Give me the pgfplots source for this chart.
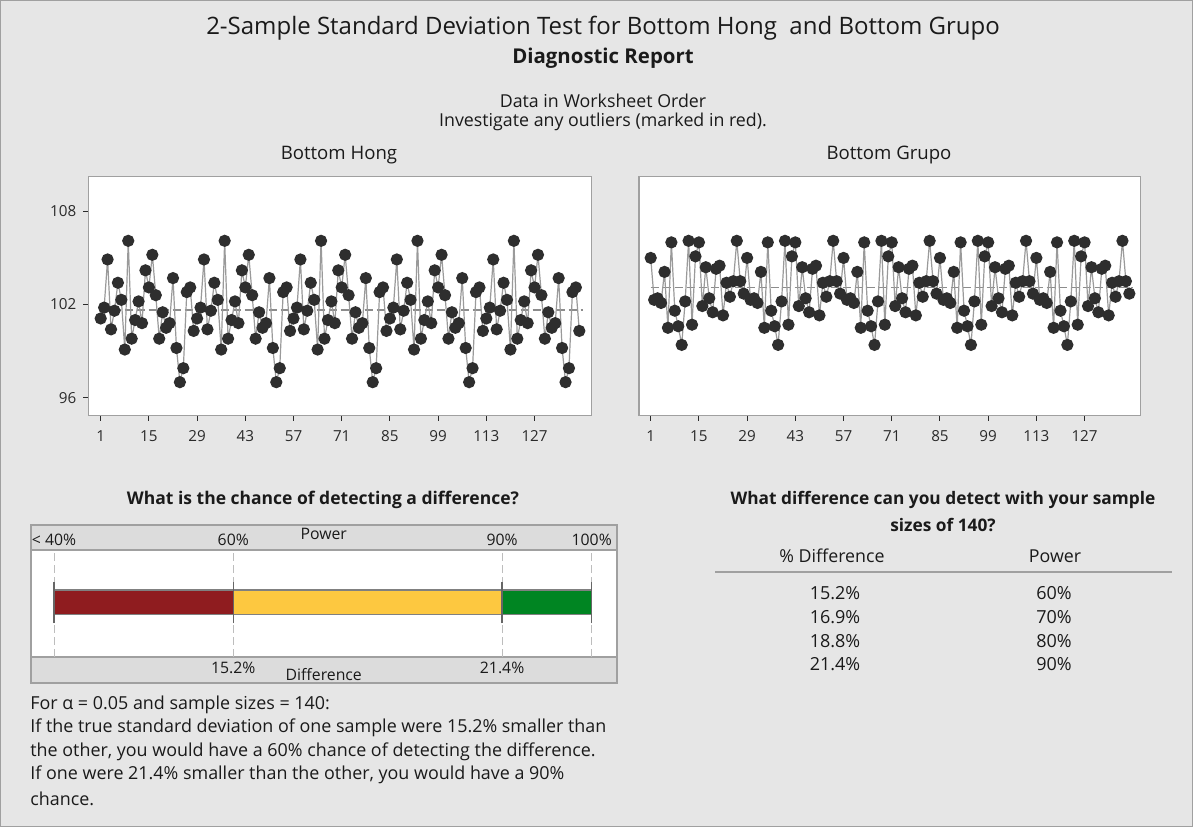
\documentclass[border=0pt]{standalone}
\usepackage{pgfplots}
\pgfplotsset{compat=1.18}
\usepackage{fontspec}
\setmainfont{Open Sans}
\definecolor{bg}{HTML}{E6E6E6}
\definecolor{band}{HTML}{DCDCDC}
\definecolor{framec}{HTML}{A0A0A0}
\definecolor{tickc}{HTML}{2A2A2A}
\definecolor{txt}{HTML}{1A1A1A}
\definecolor{markc}{HTML}{2E2E2E}
\definecolor{linec}{HTML}{9A9A9A}
\definecolor{meanc}{HTML}{8C8C8C}
\definecolor{pred}{HTML}{8F1C1F}
\definecolor{pyel}{HTML}{FDC840}
\definecolor{pgrn}{HTML}{008522}
\definecolor{dashc}{HTML}{BDBDBD}
\newcommand\fs[1]{\fontsize{#1}{#1}\selectfont}
\pgfplotsset{
 tsaxis/.style={
  anchor=south west, scale only axis,
  xmin=-2.6, xmax=143.6, ymin=94.84, ymax=110.26,
  axis background/.style={fill=white},
  axis line style={draw=framec, line width=0.7pt},
  xtick={1,15,29,43,57,71,85,99,113,127},
  tick align=outside, major tick length=2.5pt,
  xtick pos=bottom, ytick pos=left,
  tick style={draw=tickc, line width=0.5pt},
  ticklabel style={font=\fs{7.6}, text=tickc},
  xticklabel style={yshift=-1.2pt},
  /pgf/number format/assume math mode=true,
 },
 tsline/.style={draw=linec, line width=0.6pt, mark=*, mark size=2.75pt,
   mark options={fill=markc, draw=markc, solid}},
 meanline/.style={draw=meanc, line width=0.6pt, dash pattern=on 4pt off 2pt},
}
\begin{document}
\begin{tikzpicture}
\begin{scope}[x=0.5pt,y=-0.5pt]
\fill[bg] (0,0) rectangle (1193,827);
\draw[framec, line width=0.5pt] (0.5,0.5) rectangle (1192.5,826.5);
\node[text=txt, font=\fs{12}] at (603,28) {2-Sample Standard Deviation Test for Bottom Hong\ \ and Bottom Grupo};
\node[text=txt, font=\fs{10.2}\bfseries] at (603,58) {Diagnostic Report};
\node[text=txt, font=\fs{8.9}] at (603,101) {Data in Worksheet Order};
\node[text=txt, font=\fs{8.9}] at (603,122) {Investigate any outliers (marked in red).};
\node[text=txt, font=\fs{9.3}] at (339,155) {Bottom Hong};
\node[text=txt, font=\fs{9.3}] at (889,155) {Bottom Grupo};
\node[text=txt, font=\fs{8.75}\bfseries] at (323,500) {What is the chance of detecting a difference?};
\node[text=txt, font=\fs{8.65}\bfseries] at (943,500) {What difference can you detect with your sample};
\node[text=txt, font=\fs{8.65}\bfseries] at (943,525) {sizes of 140?};
\node[text=txt, font=\fs{8.9}] at (832,556) {\% Difference};
\node[text=txt, font=\fs{8.9}] at (1055,556) {Power};
\draw[framec, line width=0.8pt] (715,572) -- (1172,572);
\foreach \d/\p/\y in {15.2/60/593, 16.9/70/617, 18.8/80/641, 21.4/90/664}{
  \node[text=txt, font=\fs{9}] at (835,\y) {\d\%};
  \node[text=txt, font=\fs{9}] at (1054,\y) {\p\%};
}
\foreach \t/\y in {{For α = 0.05 and sample sizes = 140:}/705,
  {If the true standard deviation of one sample were 15.2\% smaller than}/728,
  {the other, you would have a 60\% chance of detecting the difference.}/752,
  {If one were 21.4\% smaller than the other, you would have a 90\%}/775,
  {chance.}/799}{
  \node[text=txt, font=\fs{8.95}, anchor=west, inner sep=0pt] at (30,\y) {\t};
}
\end{scope}

\begin{axis}[tsaxis, at={(44.15pt,-207.85pt)}, width=251.7pt, height=119.75pt, ytick={96,102,108}]
\addplot[meanline] coordinates {(1,101.65)(141,101.65)};
\addplot[tsline] coordinates {
(1,101.1)(2,101.8)(3,104.9)(4,100.4)(5,101.6)(6,103.4)(7,102.3)(8,99.1)(9,106.1)(10,99.8)(11,101.0)(12,102.2)(13,100.8)(14,104.2)(15,103.1)(16,105.2)(17,102.6)(18,99.8)(19,101.5)(20,100.5)(21,100.8)(22,103.7)(23,99.2)(24,97.0)(25,97.9)(26,102.8)(27,103.1)(28,100.3)
(29,101.1)(30,101.8)(31,104.9)(32,100.4)(33,101.6)(34,103.4)(35,102.3)(36,99.1)(37,106.1)(38,99.8)(39,101.0)(40,102.2)(41,100.8)(42,104.2)(43,103.1)(44,105.2)(45,102.6)(46,99.8)(47,101.5)(48,100.5)(49,100.8)(50,103.7)(51,99.2)(52,97.0)(53,97.9)(54,102.8)(55,103.1)(56,100.3)
(57,101.1)(58,101.8)(59,104.9)(60,100.4)(61,101.6)(62,103.4)(63,102.3)(64,99.1)(65,106.1)(66,99.8)(67,101.0)(68,102.2)(69,100.8)(70,104.2)(71,103.1)(72,105.2)(73,102.6)(74,99.8)(75,101.5)(76,100.5)(77,100.8)(78,103.7)(79,99.2)(80,97.0)(81,97.9)(82,102.8)(83,103.1)(84,100.3)
(85,101.1)(86,101.8)(87,104.9)(88,100.4)(89,101.6)(90,103.4)(91,102.3)(92,99.1)(93,106.1)(94,99.8)(95,101.0)(96,102.2)(97,100.8)(98,104.2)(99,103.1)(100,105.2)(101,102.6)(102,99.8)(103,101.5)(104,100.5)(105,100.8)(106,103.7)(107,99.2)(108,97.0)(109,97.9)(110,102.8)(111,103.1)(112,100.3)
(113,101.1)(114,101.8)(115,104.9)(116,100.4)(117,101.6)(118,103.4)(119,102.3)(120,99.1)(121,106.1)(122,99.8)(123,101.0)(124,102.2)(125,100.8)(126,104.2)(127,103.1)(128,105.2)(129,102.6)(130,99.8)(131,101.5)(132,100.5)(133,100.8)(134,103.7)(135,99.2)(136,97.0)(137,97.9)(138,102.8)(139,103.1)(140,100.3)
};
\end{axis}

\begin{axis}[tsaxis, at={(319.5pt,-207.85pt)}, width=250.85pt, height=119.75pt, xmin=-2.4, xmax=143.3, ytick=\empty]
\addplot[meanline] coordinates {(1,103.07)(141,103.07)};
\addplot[tsline] coordinates {
(1,105.0)(2,102.3)(3,102.4)(4,102.1)(5,104.1)(6,100.5)(7,106.0)(8,101.6)(9,100.6)(10,99.4)(11,102.2)(12,106.1)(13,100.7)(14,105.1)(15,106.0)(16,101.9)(17,104.4)(18,102.4)(19,101.5)(20,104.3)(21,104.5)(22,101.3)(23,103.4)(24,102.5)(25,103.5)(26,106.1)(27,103.5)(28,102.7)
(29,105.0)(30,102.3)(31,102.4)(32,102.1)(33,104.1)(34,100.5)(35,106.0)(36,101.6)(37,100.6)(38,99.4)(39,102.2)(40,106.1)(41,100.7)(42,105.1)(43,106.0)(44,101.9)(45,104.4)(46,102.4)(47,101.5)(48,104.3)(49,104.5)(50,101.3)(51,103.4)(52,102.5)(53,103.5)(54,106.1)(55,103.5)(56,102.7)
(57,105.0)(58,102.3)(59,102.4)(60,102.1)(61,104.1)(62,100.5)(63,106.0)(64,101.6)(65,100.6)(66,99.4)(67,102.2)(68,106.1)(69,100.7)(70,105.1)(71,106.0)(72,101.9)(73,104.4)(74,102.4)(75,101.5)(76,104.3)(77,104.5)(78,101.3)(79,103.4)(80,102.5)(81,103.5)(82,106.1)(83,103.5)(84,102.7)
(85,105.0)(86,102.3)(87,102.4)(88,102.1)(89,104.1)(90,100.5)(91,106.0)(92,101.6)(93,100.6)(94,99.4)(95,102.2)(96,106.1)(97,100.7)(98,105.1)(99,106.0)(100,101.9)(101,104.4)(102,102.4)(103,101.5)(104,104.3)(105,104.5)(106,101.3)(107,103.4)(108,102.5)(109,103.5)(110,106.1)(111,103.5)(112,102.7)
(113,105.0)(114,102.3)(115,102.4)(116,102.1)(117,104.1)(118,100.5)(119,106.0)(120,101.6)(121,100.6)(122,99.4)(123,102.2)(124,106.1)(125,100.7)(126,105.1)(127,106.0)(128,101.9)(129,104.4)(130,102.4)(131,101.5)(132,104.3)(133,104.5)(134,101.3)(135,103.4)(136,102.5)(137,103.5)(138,106.1)(139,103.5)(140,102.7)
};
\end{axis}

\begin{axis}[at={(15.5pt,-341.5pt)}, anchor=south west, scale only axis,
  width=292.85pt, height=79pt, xmin=37.43, xmax=102.79, ymin=0, ymax=158,
  axis background/.style={fill=white}, axis line style={draw=framec, line width=0.9pt},
  ticks=none, axis on top, clip=false]
\fill[band] (axis cs:37.43,133) rectangle (axis cs:102.79,158);
\fill[band] (axis cs:37.43,0) rectangle (axis cs:102.79,26.3);
\draw[framec, line width=0.8pt] (axis cs:37.43,133) -- (axis cs:102.79,133);
\draw[framec, line width=0.8pt] (axis cs:37.43,26.3) -- (axis cs:102.79,26.3);
\addplot[draw=dashc, line width=0.5pt, dash pattern=on 4pt off 2pt] coordinates {(40,26.3)(40,133)};
\addplot[draw=dashc, line width=0.5pt, dash pattern=on 4pt off 2pt] coordinates {(60,26.3)(60,133)};
\addplot[draw=dashc, line width=0.5pt, dash pattern=on 4pt off 2pt] coordinates {(90,26.3)(90,133)};
\addplot[draw=dashc, line width=0.5pt, dash pattern=on 4pt off 2pt] coordinates {(100,26.3)(100,133)};
\addplot[fill=pred, draw=gray, line width=0.6pt] coordinates {(40,68.7)(60,68.7)(60,93)(40,93)(40,68.7)};
\addplot[fill=pyel, draw=gray, line width=0.6pt] coordinates {(60,68.7)(90,68.7)(90,93)(60,93)(60,68.7)};
\addplot[fill=pgrn, draw=gray, line width=0.6pt] coordinates {(90,68.7)(100,68.7)(100,93)(90,93)(90,68.7)};
\addplot[draw=gray!80!black, line width=0.6pt] coordinates {(40,60)(40,101)};
\addplot[draw=gray!80!black, line width=0.6pt] coordinates {(60,60)(60,101)};
\addplot[draw=gray!80!black, line width=0.6pt] coordinates {(90,60)(90,101)};
\addplot[draw=gray!80!black, line width=0.6pt] coordinates {(100,60)(100,101)};
\node[text=txt, font=\fs{7.9}] at (axis cs:40,143) {< 40\%};
\node[text=txt, font=\fs{7.9}] at (axis cs:60,143) {60\%};
\node[text=txt, font=\fs{7.9}] at (axis cs:70.1,149) {Power};
\node[text=txt, font=\fs{7.9}] at (axis cs:90,143) {90\%};
\node[text=txt, font=\fs{7.9}] at (axis cs:100,143) {100\%};
\node[text=txt, font=\fs{7.9}] at (axis cs:60,15) {15.2\%};
\node[text=txt, font=\fs{7.9}] at (axis cs:70.1,8) {Difference};
\node[text=txt, font=\fs{7.9}] at (axis cs:90,15) {21.4\%};
\end{axis}

\begin{scope}[x=0.5pt,y=-0.5pt]
\pgfresetboundingbox
\useasboundingbox (0,0) rectangle (1193,827);
\end{scope}
\end{tikzpicture}
\end{document}
